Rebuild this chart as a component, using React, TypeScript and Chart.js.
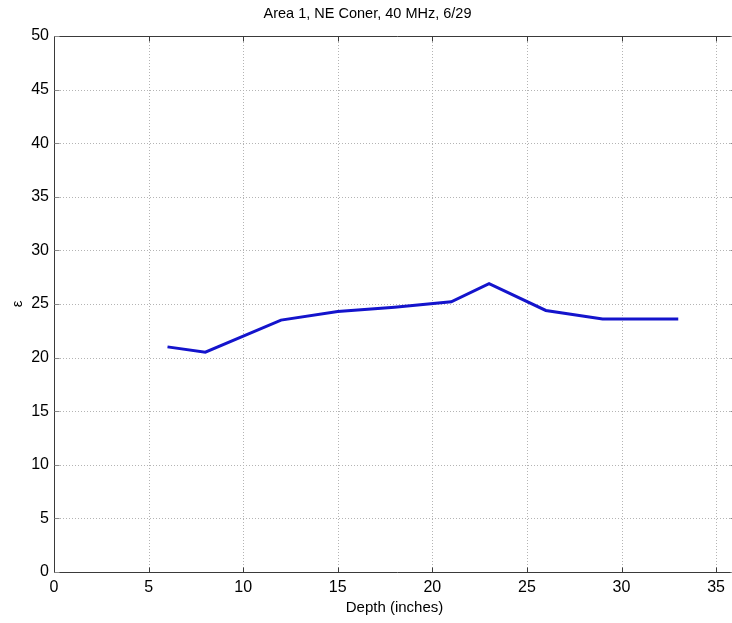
import React, { useEffect, useRef } from "react";
import { Chart, registerables } from "chart.js";

Chart.register(...registerables);

const depths = [6, 8, 12, 15, 18, 21, 23, 26, 29, 33];
const epsilon = [21.0, 20.5, 23.5, 24.3, 24.7, 25.2, 26.9, 24.4, 23.6, 23.6];
const xTickValues = [0, 5, 10, 15, 20, 25, 30, 35];
const yTickValues = [0, 5, 10, 15, 20, 25, 30, 35, 40, 45, 50];
const xRange = [0, 36];
const yRange = [0, 50];
const titleText = "Area 1, NE Coner, 40 MHz, 6/29";
const xLabel = "Depth (inches)";
const yLabel = "ε";

const FONT = "'Liberation Sans', Arial, Helvetica, sans-serif";

const matlabAxes = {
  id: "matlabAxes",
  beforeDatasetsDraw(chart: any) {
    const { ctx, chartArea } = chart;
    const xs = chart.scales.x;
    const ys = chart.scales.y;
    const { left, right, top, bottom } = chartArea;
    ctx.save();
    ctx.strokeStyle = "#b4b4b4";
    ctx.lineWidth = 1;
    ctx.setLineDash([1, 2]);
    xs.ticks.forEach((t: any) => {
      const px = Math.round(xs.getPixelForValue(t.value)) + 0.5;
      if (px <= left + 1 || px >= right - 1) return;
      ctx.beginPath();
      ctx.moveTo(px, top);
      ctx.lineTo(px, bottom);
      ctx.stroke();
    });
    ys.ticks.forEach((t: any) => {
      const py = Math.round(ys.getPixelForValue(t.value)) + 0.5;
      if (py <= top + 1 || py >= bottom - 1) return;
      ctx.beginPath();
      ctx.moveTo(left, py);
      ctx.lineTo(right, py);
      ctx.stroke();
    });
    ctx.restore();
  },
  afterDatasetsDraw(chart: any) {
    const { ctx, chartArea } = chart;
    const xs = chart.scales.x;
    const ys = chart.scales.y;
    const l = Math.round(chartArea.left) + 0.5;
    const r = Math.round(chartArea.right) + 0.5;
    const t = Math.round(chartArea.top) + 0.5;
    const b = Math.round(chartArea.bottom) + 0.5;
    const tl = 5;
    ctx.save();
    ctx.setLineDash([]);
    ctx.strokeStyle = "#3a3a3a";
    ctx.lineWidth = 1;
    // left, top, bottom borders (right border lies just outside the cropped view)
    ctx.beginPath();
    ctx.moveTo(r + 10, t);
    ctx.lineTo(l, t);
    ctx.lineTo(l, b);
    ctx.lineTo(r + 10, b);
    ctx.stroke();
    xs.ticks.forEach((tk: any) => {
      const px = Math.round(xs.getPixelForValue(tk.value)) + 0.5;
      ctx.beginPath();
      ctx.moveTo(px, b);
      ctx.lineTo(px, b - tl);
      ctx.moveTo(px, t);
      ctx.lineTo(px, t + tl);
      ctx.stroke();
    });
    ctx.strokeStyle = "#8a8a8a";
    ys.ticks.forEach((tk: any) => {
      const py = Math.round(ys.getPixelForValue(tk.value)) + 0.5;
      ctx.beginPath();
      ctx.moveTo(l, py);
      ctx.lineTo(l + tl, py);
      ctx.moveTo(r, py);
      ctx.lineTo(r - tl, py);
      ctx.stroke();
    });
    ctx.restore();
  },
};

export default function App() {
  const ref = useRef<HTMLCanvasElement | null>(null);

  useEffect(() => {
    if (!ref.current) return;
    const chart = new Chart(ref.current, {
      type: "line",
      data: {
        datasets: [
          {
            data: depths.map((d, i) => ({ x: d, y: epsilon[i] })),
            borderColor: "#1414cc",
            borderWidth: 3,
            pointRadius: 0,
            tension: 0,
            fill: false,
          },
        ],
      },
      options: {
        animation: false,
        responsive: false,
        layout: { padding: { left: 0, right: 5, top: 0, bottom: 0 } },
        plugins: {
          legend: { display: false },
          tooltip: { enabled: false },
          title: {
            display: true,
            text: titleText,
            color: "#000",
            font: { family: FONT, size: 14.5, weight: "normal" },
            padding: { top: 5, bottom: 13.6 },
          },
        },
        scales: {
          x: {
            type: "linear",
            min: xRange[0],
            max: xRange[1],
            afterBuildTicks: (s: any) => {
              s.ticks = xTickValues.map((v) => ({ value: v }));
            },
            afterFit: (s: any) => {
              s.height = 51;
            },
            ticks: {
              color: "#000",
              font: { family: FONT, size: 16 },
              padding: 6,
              maxRotation: 0,
              autoSkip: false,
            },
            grid: { display: false, drawTicks: false },
            border: { display: false },
            title: {
              display: true,
              text: xLabel,
              color: "#000",
              font: { family: FONT, size: 15 },
              padding: { top: 0, bottom: 6 },
            },
          },
          y: {
            type: "linear",
            min: yRange[0],
            max: yRange[1],
            afterBuildTicks: (s: any) => {
              s.ticks = yTickValues.map((v) => ({ value: v }));
            },
            afterFit: (s: any) => {
              s.width = 54;
            },
            ticks: {
              color: "#000",
              font: { family: FONT, size: 16 },
              padding: 5,
              autoSkip: false,
            },
            grid: { display: false, drawTicks: false },
            border: { display: false },
            title: {
              display: true,
              text: yLabel,
              color: "#000",
              font: { family: FONT, size: 15 },
              padding: { top: 9, bottom: 0 },
            },
          },
        },
      },
      plugins: [matlabAxes],
    } as any);
    return () => chart.destroy();
  }, []);

  return (
    <div
      style={{
        position: "fixed",
        left: 0,
        top: 0,
        width: 732,
        height: 623,
        overflow: "hidden",
        background: "#fff",
      }}
    >
      <canvas ref={ref} width={740} height={623} style={{ display: "block" }} />
    </div>
  );
}
